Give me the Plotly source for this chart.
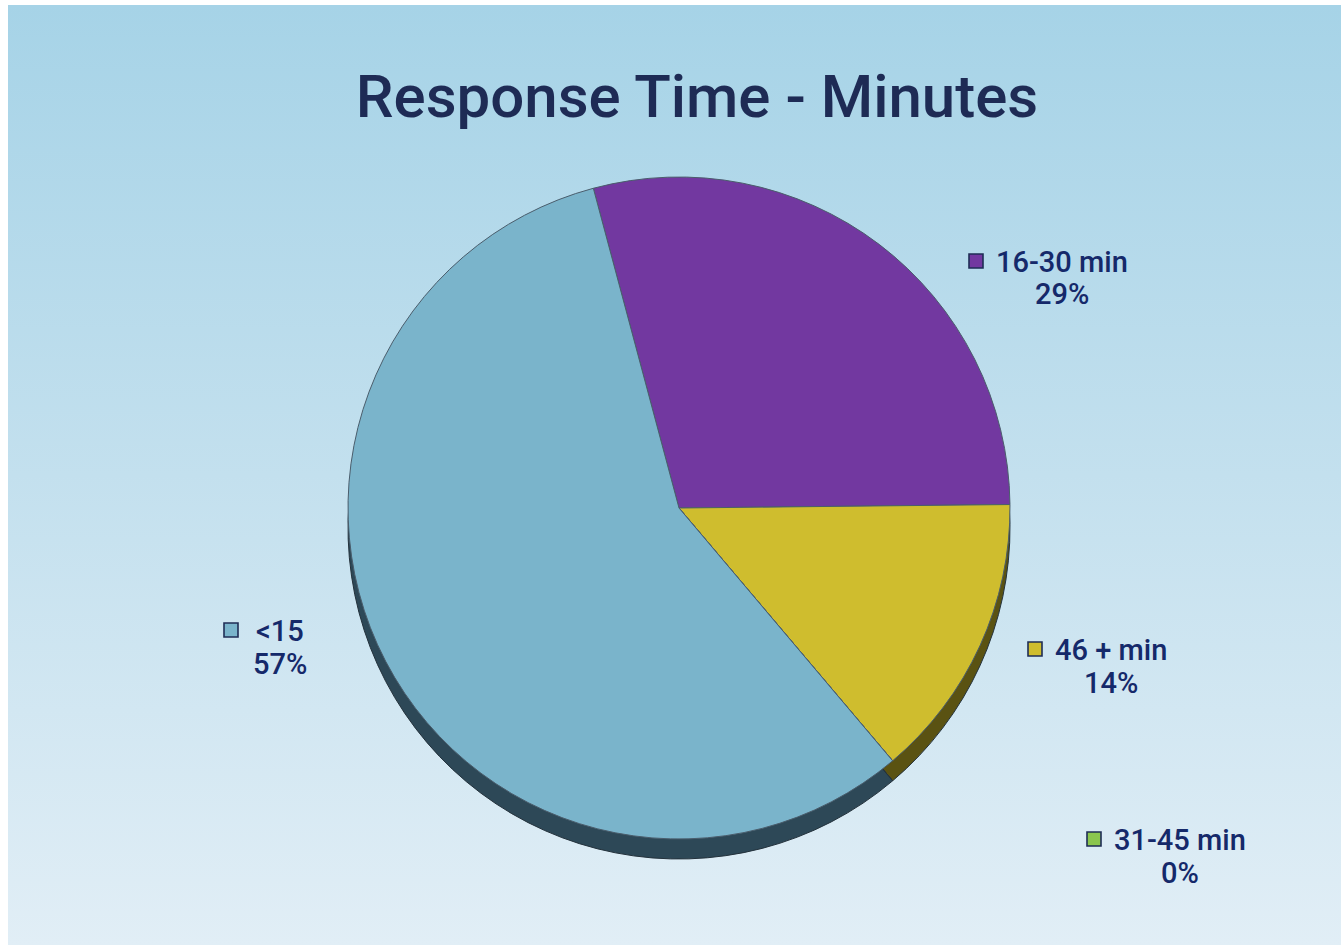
import base64
import plotly.graph_objects as go

# Response-time shares, in the order the slices run clockwise from the top
categories = ["16-30 min", "46 + min", "31-45 min", "<15"]
shares = [29, 14, 0, 57]

slice_colors = ["#7238a0", "#cfbd2e", "#8bc64e", "#7ab4cb"]
depth_colors = ["#3b1d56", "#5a5212", "#3d5a22", "#2d4857"]

W, H = 1341, 945
CX, CY, R = 679, 508, 331   # pie centre / radius in pixels
DEPTH = 20                  # thickness of the pie edge

# label placement: text centre x, first line y, second line y, key square x
label_pos = {
    "16-30 min": (1062, 262, 294, 976),
    "46 + min": (1111, 650, 683, 1035),
    "31-45 min": (1180, 840, 873, 1094),
    "<15": (280, 631, 664, 231),
}

TEXT = "#15296a"
FONT = "Roboto, Liberation Sans, Arial, sans-serif"


def pie_domain(cy):
    yc = H - cy
    return dict(x=[(CX - R) / W, (CX + R) / W], y=[(yc - R) / H, (yc + R) / H])


fig = go.Figure()

# darker copy underneath gives the pie its edge thickness
fig.add_trace(go.Pie(
    labels=categories, values=shares, sort=False, direction="clockwise",
    rotation=-15, domain=pie_domain(CY + DEPTH), textinfo="none",
    marker=dict(colors=depth_colors, line=dict(color="#24323c", width=1)),
    hoverinfo="skip", showlegend=False,
))
fig.add_trace(go.Pie(
    labels=categories, values=shares, sort=False, direction="clockwise",
    rotation=-15, domain=pie_domain(CY), textinfo="none",
    marker=dict(colors=slice_colors, line=dict(color="#4a5d6c", width=1)),
    showlegend=False,
))

# colour keys beside each label
fig.add_trace(go.Scatter(
    x=[label_pos[c][3] for c in categories],
    y=[label_pos[c][1] - 1 for c in categories],
    mode="markers",
    marker=dict(symbol="square", size=14, color=slice_colors,
                line=dict(color="#1f2d55", width=1.6)),
    hoverinfo="skip", showlegend=False,
))

annotations = []
for c, v in zip(categories, shares):
    cx, y1, y2, _ = label_pos[c]
    for txt, yy in ((c, y1), (f"{v}%", y2)):
        annotations.append(dict(
            x=cx, y=yy, xref="x", yref="y", text=txt, showarrow=False,
            xanchor="center", yanchor="middle",
            font=dict(family=FONT, size=29, color=TEXT, weight=500),
        ))

# vertical background gradient
svg = (
    '<svg xmlns="http://www.w3.org/2000/svg" width="100" height="100" preserveAspectRatio="none">'
    '<defs><linearGradient id="g" x1="0" y1="0" x2="0" y2="1">'
    '<stop offset="0" stop-color="#a6d3e7"/>'
    '<stop offset="0.5" stop-color="#c3e0ee"/>'
    '<stop offset="1" stop-color="#e1eef6"/>'
    '</linearGradient></defs>'
    '<rect width="100" height="100" fill="url(#g)"/></svg>'
)
bg_src = "data:image/svg+xml;base64," + base64.b64encode(svg.encode()).decode()

fig.update_layout(
    width=W, height=H,
    margin=dict(l=0, r=0, t=0, b=0),
    paper_bgcolor="white",
    plot_bgcolor="rgba(0,0,0,0)",
    title=dict(
        text="Response Time - Minutes", x=697 / W, y=1 - 96 / H,
        xanchor="center", yanchor="middle",
        font=dict(family=FONT, size=60, color="#1e2b55", weight=500),
    ),
    xaxis=dict(range=[0, W], domain=[0, 1], visible=False, fixedrange=True),
    yaxis=dict(range=[H, 0], domain=[0, 1], visible=False, fixedrange=True),
    annotations=annotations,
    images=[dict(
        source=bg_src, xref="paper", yref="paper",
        x=8 / W, y=1 - 5 / H, sizex=1 - 8 / W, sizey=1 - 5 / H,
        xanchor="left", yanchor="top", sizing="stretch", layer="below",
    )],
)

fig.write_html("out.html")
